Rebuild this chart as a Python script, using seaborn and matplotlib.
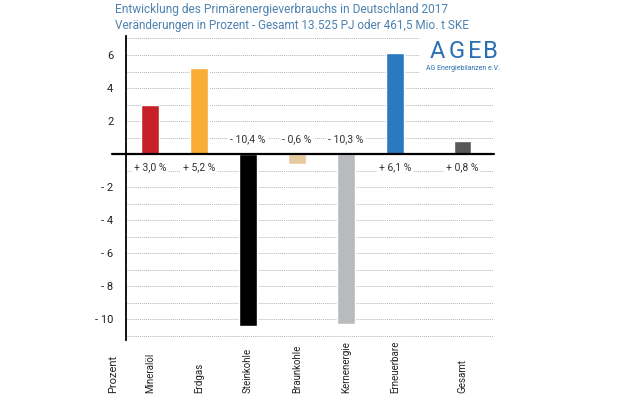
import numpy as np
import pandas as pd
import matplotlib
matplotlib.use("Agg")
import matplotlib.pyplot as plt
import seaborn as sns
from matplotlib.transforms import blended_transform_factory

# data
traeger = ["Mineralöl", "Erdgas", "Steinkohle", "Braunkohle",
           "Kernenergie", "Erneuerbare", "Gesamt"]
veraenderung = [3.0, 5.2, -10.4, -0.6, -10.3, 6.1, 0.8]
farben = ["#c62128", "#f9ad35", "#000000", "#e6c99d",
          "#b9babd", "#2a79c1", "#58595b"]
ytick_werte = [6, 4, 2, -2, -4, -6, -8, -10]

# layout: Gesamt sits a bit further right
pos = [0, 1, 2, 3, 4, 5, 6.37]

df = pd.DataFrame({"pos": pos, "traeger": traeger, "wert": veraenderung})

sns.set_theme(style="white")
plt.rcParams['font.family'] = ['Roboto', 'DejaVu Sans']

fig = plt.figure(figsize=(6.29, 3.98), dpi=100)
ax = fig.add_axes([0.2003, 0.1457, 0.585, 0.7638])

sns.barplot(data=df, x="pos", y="wert", hue="traeger", palette=farben,
            native_scale=True, width=0.35, legend=False, ax=ax, saturation=1)

ax.set_xlim(-0.49, 7.02)
ax.set_ylim(-11.27, 7.15)

# gridlines every unit, labels only on even values
ax.set_yticks(np.arange(-11, 8))
ax.set_yticklabels([("- %d" % -t if t < 0 else str(t)) if t in ytick_werte else ""
                    for t in np.arange(-11, 8)], fontsize=8, color="#222222")
ax.tick_params(axis="y", length=0, pad=9)
ax.grid(axis="y", linestyle=(0, (1, 1)), color="#b5b5b5", linewidth=0.7)
ax.set_axisbelow(True)
ax.set_xticks([])
ax.set_xlabel("")
ax.set_ylabel("")

for s in ["top", "right", "bottom"]:
    ax.spines[s].set_visible(False)
ax.spines["left"].set_color("black")
ax.spines["left"].set_linewidth(1.3)

# zero line
ax.axhline(0, xmin=-0.038, xmax=1.0, color="black", linewidth=1.6,
           clip_on=False, zorder=5)

# value labels
for p, v in zip(pos, veraenderung):
    txt = ("+ " if v > 0 else "- ") + ("%.1f" % abs(v)).replace(".", ",") + " %"
    y = -0.8 if v > 0 else 0.9
    ax.text(p, y, txt, ha="center", va="center", fontsize=7.5, color="#333333",
            bbox=dict(facecolor="white", edgecolor="none", pad=1.5), zorder=6)

# category labels at the bottom
trans = blended_transform_factory(ax.transData, fig.transFigure)
for p, t in zip(pos, traeger):
    ax.text(p, 0.013, t, rotation=90, ha="center", va="bottom", fontsize=7,
            color="#222222", transform=trans)
ax.text(113 / 629, 0.013, "Prozent", rotation=90, ha="center", va="bottom",
        fontsize=8, color="#222222", transform=fig.transFigure)

# title
titel_farbe = "#4d82b0"
fig.text(115 / 629, 1 - 10 / 398, "Entwicklung des Primärenergieverbrauchs in Deutschland 2017",
         fontsize=8.6, color=titel_farbe, va="center", ha="left")
fig.text(115 / 629, 1 - 26 / 398, "Veränderungen in Prozent - Gesamt 13.525 PJ oder 461,5 Mio. t SKE",
         fontsize=8.5, color=titel_farbe, va="center", ha="left")

# logo
logo_farbe = "#2b70b2"
fig.patches.append(plt.Rectangle((420 / 629, 1 - 76 / 398), 76 / 629, 40 / 398,
                                 transform=fig.transFigure, facecolor="white",
                                 edgecolor="none", zorder=3))
for bx, buchstabe in zip([437, 457, 475, 490], "AGEB"):
    fig.text(bx / 629, 1 - 51 / 398, buchstabe, fontsize=17, color=logo_farbe,
             ha="center", va="center", zorder=4)
fig.text(463 / 629, 1 - 68 / 398, "AG Energiebilanzen e.V.", fontsize=5,
         color=logo_farbe, ha="center", va="center", zorder=4)

fig.savefig("out.png", dpi=100)
